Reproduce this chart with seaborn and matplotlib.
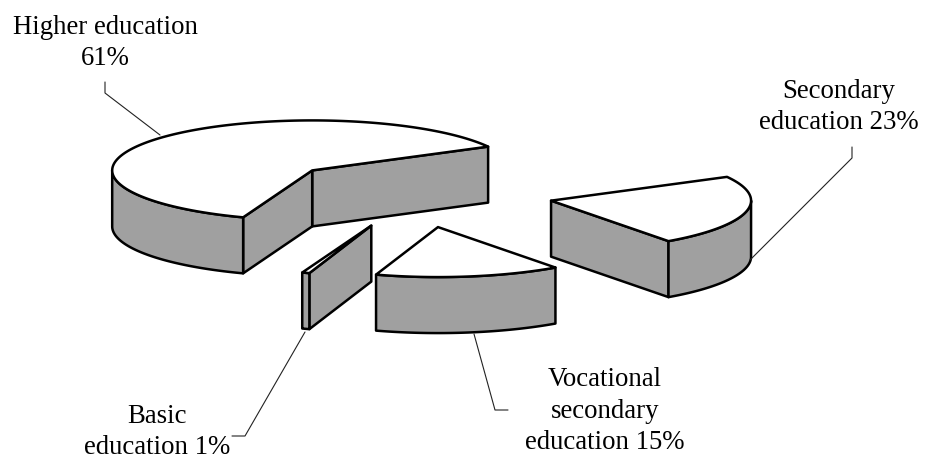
import numpy as np
import pandas as pd
import matplotlib
matplotlib.use("Agg")
import matplotlib.pyplot as plt
import seaborn as sns

# education shares, in drawing order (anticlockwise from the first cut)
labels = ["Higher education\n61%", "Basic\neducation 1%",
          "Vocational\nsecondary\neducation 15%", "Secondary\neducation 23%"]
# slice sizes as measured on the picture, the labels are rounded
shares = [61.5, 0.6, 15.0, 22.9]

START = 28.4
CX, CY = 416.5, 193
A, B = 200, 50
DEPTH = 56
EXPLODE = 0.69
GREY = "#a0a0a0"
EDGE = "black"
LW = 1.8

label_pos = [(105, 43), (157, 432), (605, 411), (839, 107)]
leaders = [
    [(105, 82), (105, 93), (160, 135)],
    [(305, 332), (245, 436), (232, 436)],
    [(474, 334), (495, 410), (508, 410)],
    [(750, 260), (852, 158), (852, 147)],
]

sns.set_theme(style="white")
plt.rcParams["font.family"] = ["Liberation Serif", "DejaVu Serif"]

fig, ax = plt.subplots(figsize=(9.34, 4.61), dpi=100)
ax.set_position([0, 0, 1, 1])


def rim_point(x0, y0, t):
    t = np.radians(t)
    return x0 + A * np.cos(t), y0 - B * np.sin(t)


def wall(xs, ys):
    xs = np.asarray(xs, dtype=float)
    ys = np.asarray(ys, dtype=float)
    ax.fill(np.r_[xs, xs[::-1]], np.r_[ys, ys[::-1] + DEPTH], facecolor=GREY,
            edgecolor=EDGE, linewidth=LW, joinstyle="round")


angles = START + np.r_[0, np.cumsum(shares)] * 3.6
for i in range(len(shares)):
    t0, t1 = angles[i], angles[i + 1]
    mid = np.radians((t0 + t1) / 2)
    x0 = CX + EXPLODE * A * np.cos(mid)
    y0 = CY - EXPLODE * B * np.sin(mid)

    # cut faces, only those turned to the viewer
    for t, normal in ((t0, t0 - 90), (t1, t1 + 90)):
        if np.sin(np.radians(normal)) < 0:
            px, py = rim_point(x0, y0, t)
            wall([x0, px], [y0, py])

    # front part of the rim only
    lo, hi = max(t0, 180), min(t1, 360)
    if hi > lo:
        rx, ry = rim_point(x0, y0, np.linspace(lo, hi, 80))
        wall(rx, ry)

    tx, ty = rim_point(x0, y0, np.linspace(t0, t1, 160))
    ax.fill(np.r_[x0, tx], np.r_[y0, ty], facecolor="white", edgecolor=EDGE,
            linewidth=LW, joinstyle="round")

# leader lines and labels
for pts in leaders:
    df = pd.DataFrame(pts, columns=["x", "y"])
    sns.lineplot(data=df, x="x", y="y", sort=False, estimator=None, ax=ax,
                 color="#222222", linewidth=0.8)

for text, (x, y) in zip(labels, label_pos):
    ax.text(x, y, text, ha="center", va="center", fontsize=19.3, color="black",
            linespacing=1.36)

ax.set_xlim(0, 934)
ax.set_ylim(461, 0)
ax.axis("off")
fig.savefig("out.png", dpi=100)
